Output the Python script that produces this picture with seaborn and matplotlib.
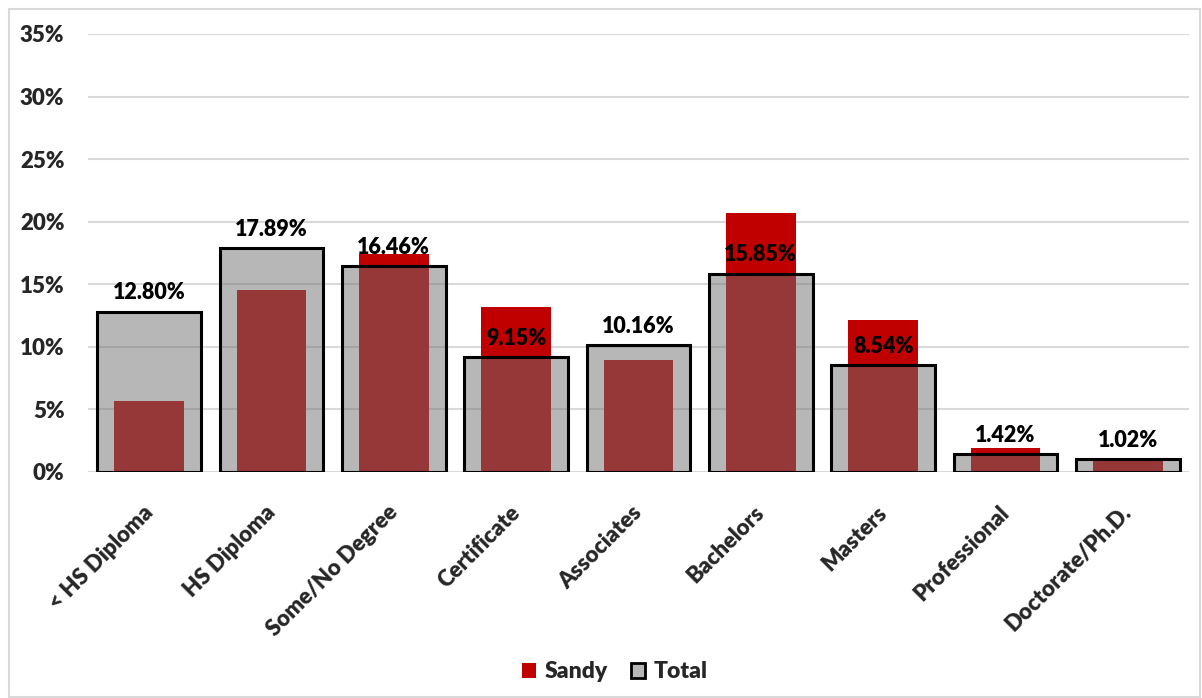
import matplotlib
matplotlib.use("Agg")
import matplotlib.pyplot as plt
import matplotlib.transforms as mtransforms
from matplotlib.patches import Patch, Rectangle
from matplotlib.ticker import FuncFormatter
import pandas as pd
import seaborn as sns

categories = ["< HS Diploma", "HS Diploma", "Some/No Degree", "Certificate",
              "Associates", "Bachelors", "Masters", "Professional", "Doctorate/Ph.D."]
sandy = [5.67, 14.54, 17.41, 13.15, 8.95, 20.66, 12.14, 1.89, 0.95]
total = [12.80, 17.89, 16.46, 9.15, 10.16, 15.85, 8.54, 1.42, 1.02]
y_ticks = [0, 5, 10, 15, 20, 25, 30, 35]

RED = "#C00000"
GRAY_FACE = (0.44, 0.44, 0.44, 0.5)
WEIGHT = "heavy"

sns.set_theme(style="white")
plt.rcParams["font.family"] = ["Lato", "DejaVu Sans"]
plt.rcParams["font.weight"] = WEIGHT

df = pd.DataFrame({"category": categories, "Sandy": sandy, "Total": total})

fig = plt.figure(figsize=(12.02, 6.98), dpi=100)
ax = fig.add_axes([88 / 1202, 1 - 472 / 698, (1189 - 88) / 1202, (472 - 34) / 698])

sns.barplot(data=df, x="category", y="Sandy", color=RED, width=0.57,
            saturation=1, linewidth=0, ax=ax)
sns.barplot(data=df, x="category", y="Total", color="#707070", width=0.85,
            saturation=1, ax=ax)

total_bars = ax.containers[1]
for bar in total_bars:
    bar.set_facecolor(GRAY_FACE)
    bar.set_edgecolor("black")
    bar.set_linewidth(2.2)
    bar.set_zorder(3)
for bar in ax.containers[0]:
    bar.set_zorder(2)

ax.bar_label(total_bars, labels=[f"{v:.2f}%" for v in total], padding=6,
             fontsize=15.5, fontweight=WEIGHT, color="black", zorder=5)

ax.set_ylim(0, 35)
ax.set_yticks(y_ticks)
ax.yaxis.set_major_formatter(FuncFormatter(lambda v, _: f"{v:.0f}%"))
ax.set_xlim(-0.5, len(categories) - 0.5)
ax.grid(axis="y", color="#d9d9d9", linewidth=1.5, zorder=0)
ax.set_axisbelow(True)
for side in ["top", "right", "left", "bottom"]:
    ax.spines[side].set_visible(False)
ax.set_xlabel("")
ax.set_ylabel("")
ax.tick_params(axis="y", length=0, pad=17, labelsize=16)
ax.tick_params(axis="x", length=0, pad=12, labelsize=16)
for lbl in ax.get_yticklabels():
    lbl.set_fontweight(WEIGHT)
shift = mtransforms.ScaledTranslation(-7 / 100, -13 / 100, fig.dpi_scale_trans)
for lbl in ax.get_xticklabels():
    lbl.set_rotation(45)
    lbl.set_ha("right")
    lbl.set_va("top")
    lbl.set_rotation_mode("anchor")
    lbl.set_fontweight(WEIGHT)
    lbl.set_transform(lbl.get_transform() + shift)

handles = [Patch(facecolor=RED, edgecolor="none", label="Sandy"),
           Patch(facecolor=GRAY_FACE, edgecolor="black", linewidth=2, label="Total")]
fig.legend(handles=handles, loc="center", bbox_to_anchor=(615 / 1202, 1 - 672 / 698),
           ncol=2, frameon=False, prop={"size": 16.5, "weight": WEIGHT},
           handlelength=0.6, handleheight=0.6, handletextpad=0.4, columnspacing=1.0)

fig.patches.append(Rectangle((9 / 1202, 1 / 698), 1191 / 1202, 688 / 698,
                             transform=fig.transFigure, fill=False,
                             edgecolor="#d9d9d9", linewidth=1.5))

fig.savefig("out.png", dpi=100, facecolor="white")
